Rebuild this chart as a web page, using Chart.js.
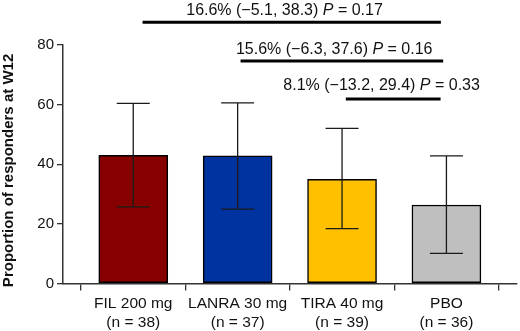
<!DOCTYPE html>
<html>
<head>
<meta charset="utf-8">
<script src="https://cdn.jsdelivr.net/npm/chart.js@4"></script>
<style>
  html, body { margin: 0; padding: 0; background: #fff; }
  #wrap { width: 520px; height: 331px; }
</style>
</head>
<body>
<div id="wrap"><canvas id="c" width="520" height="331"></canvas></div>
<script>
// ---- data ----
const categories = ["FIL 200 mg", "LANRA 30 mg", "TIRA 40 mg", "PBO"];
const sampleSizes = [38, 37, 39, 36];
const responders = [43.0, 42.8, 34.9, 26.3];
const ciLower = [25.7, 24.9, 18.4, 10.1];
const ciUpper = [60.4, 60.6, 52.0, 42.8];
const yTicks = [0, 20, 40, 60, 80];
const diffLabels = ["16.6% (\u22125.1, 38.3) ", "15.6% (\u22126.3, 37.6) ", "8.1% (\u221213.2, 29.4) "];
const pLabels = [" = 0.17", " = 0.16", " = 0.33"];

// ---- layout / style (not data) ----
const barColors = ["#870000", "#0033A0", "#FFC000", "#BFBFBF"];
const FONT = "'Liberation Sans', Arial, Helvetica, sans-serif";
// bracket geometry in data units: [xStart, xEnd, yLine, textCenterX, textBaselineY]
const bracketLayout = [
  [0.089, 2.947, 87.6, 1.449, 89.9],
  [1.028, 2.969, 74.6, 1.925, 76.85],
  [2.036, 2.944, 61.9, 2.379, 65.0]
];

const barData = categories.map((c, i) => ({ x: i, y: responders[i] }));

const errorBarPlugin = {
  id: 'errorBars',
  afterDatasetsDraw(chart) {
    const ctx = chart.ctx, xs = chart.scales.x, ys = chart.scales.y;
    ctx.save();
    ctx.strokeStyle = '#1a1a1a';
    ctx.lineWidth = 1.3;
    const capHalf = 16.5;
    categories.forEach((c, i) => {
      const x = xs.getPixelForValue(i);
      const yl = ys.getPixelForValue(ciLower[i]);
      const yh = ys.getPixelForValue(ciUpper[i]);
      ctx.beginPath();
      ctx.moveTo(x, yl); ctx.lineTo(x, yh);
      ctx.moveTo(x - capHalf, yl); ctx.lineTo(x + capHalf, yl);
      ctx.moveTo(x - capHalf, yh); ctx.lineTo(x + capHalf, yh);
      ctx.stroke();
    });
    ctx.restore();
  }
};

const bracketPlugin = {
  id: 'brackets',
  afterDraw(chart) {
    const ctx = chart.ctx, xs = chart.scales.x, ys = chart.scales.y;
    ctx.save();
    bracketLayout.forEach((b, i) => {
      const x1 = xs.getPixelForValue(b[0]);
      const x2 = xs.getPixelForValue(b[1]);
      const yl = ys.getPixelForValue(b[2]);
      ctx.strokeStyle = '#000';
      ctx.lineWidth = 3;
      ctx.beginPath();
      ctx.moveTo(x1, yl); ctx.lineTo(x2, yl);
      ctx.stroke();
      // text with italic P
      const normal = '16px ' + FONT;
      const italic = 'italic 16px ' + FONT;
      ctx.fillStyle = '#111';
      ctx.textBaseline = 'alphabetic';
      ctx.textAlign = 'left';
      ctx.font = normal;
      const w1 = ctx.measureText(diffLabels[i]).width;
      const w3 = ctx.measureText(pLabels[i]).width;
      ctx.font = italic;
      const w2 = ctx.measureText('P').width;
      const total = w1 + w2 + w3;
      const cx = xs.getPixelForValue(b[3]);
      const ty = ys.getPixelForValue(b[4]);
      let x = cx - total / 2;
      ctx.font = normal; ctx.fillText(diffLabels[i], x, ty); x += w1;
      ctx.font = italic; ctx.fillText('P', x, ty); x += w2;
      ctx.font = normal; ctx.fillText(pLabels[i], x, ty);
    });
    ctx.restore();
  }
};

new Chart(document.getElementById('c'), {
  type: 'bar',
  data: {
    datasets: [{
      data: barData,
      backgroundColor: barColors,
      borderColor: '#000',
      borderWidth: 1.5,
      borderSkipped: false,
      barThickness: 69
    }]
  },
  options: {
    responsive: false,
    animation: false,
    devicePixelRatio: 1,
    layout: { padding: { top: 45, right: 3, left: 0, bottom: 0 } },
    plugins: { legend: { display: false }, tooltip: { enabled: false } },
    scales: {
      x: {
        type: 'linear',
        min: -0.673,
        max: 3.676,
        offset: false,
        afterBuildTicks(scale) { scale.ticks = categories.map((c, i) => ({ value: i })); },
        afterFit(scale) { scale.height = 47.6; },
        ticks: {
          callback(v) { const i = Math.round(v); return [categories[i], '(n = ' + sampleSizes[i] + ')']; },
          font: { family: FONT, size: 15.5 },
          color: '#111',
          padding: 4,
          maxRotation: 0,
          autoSkip: false
        },
        grid: { display: true, drawOnChartArea: false, drawTicks: true, tickLength: 7, color: '#333', lineWidth: 1.3 },
        border: { display: true, color: '#333', width: 1.5 }
      },
      y: {
        min: 0,
        max: 80,
        afterBuildTicks(scale) { scale.ticks = yTicks.map(v => ({ value: v })); },
        afterFit(scale) { scale.width = 63; },
        ticks: {
          font: { family: FONT, size: 15 },
          color: '#111',
          padding: 3
        },
        grid: { display: true, drawOnChartArea: false, drawTicks: true, tickLength: 6, color: '#333', lineWidth: 1.3 },
        border: { display: true, color: '#333', width: 1.5 },
        title: {
          display: true,
          text: 'Proportion of responders at W12\u00a0\u00a0\u00a0',
          font: { family: FONT, size: 15, weight: 'bold' },
          color: '#111',
          padding: { top: 0, bottom: 0 }
        }
      }
    }
  },
  plugins: [errorBarPlugin, bracketPlugin]
});
</script>
</body>
</html>
